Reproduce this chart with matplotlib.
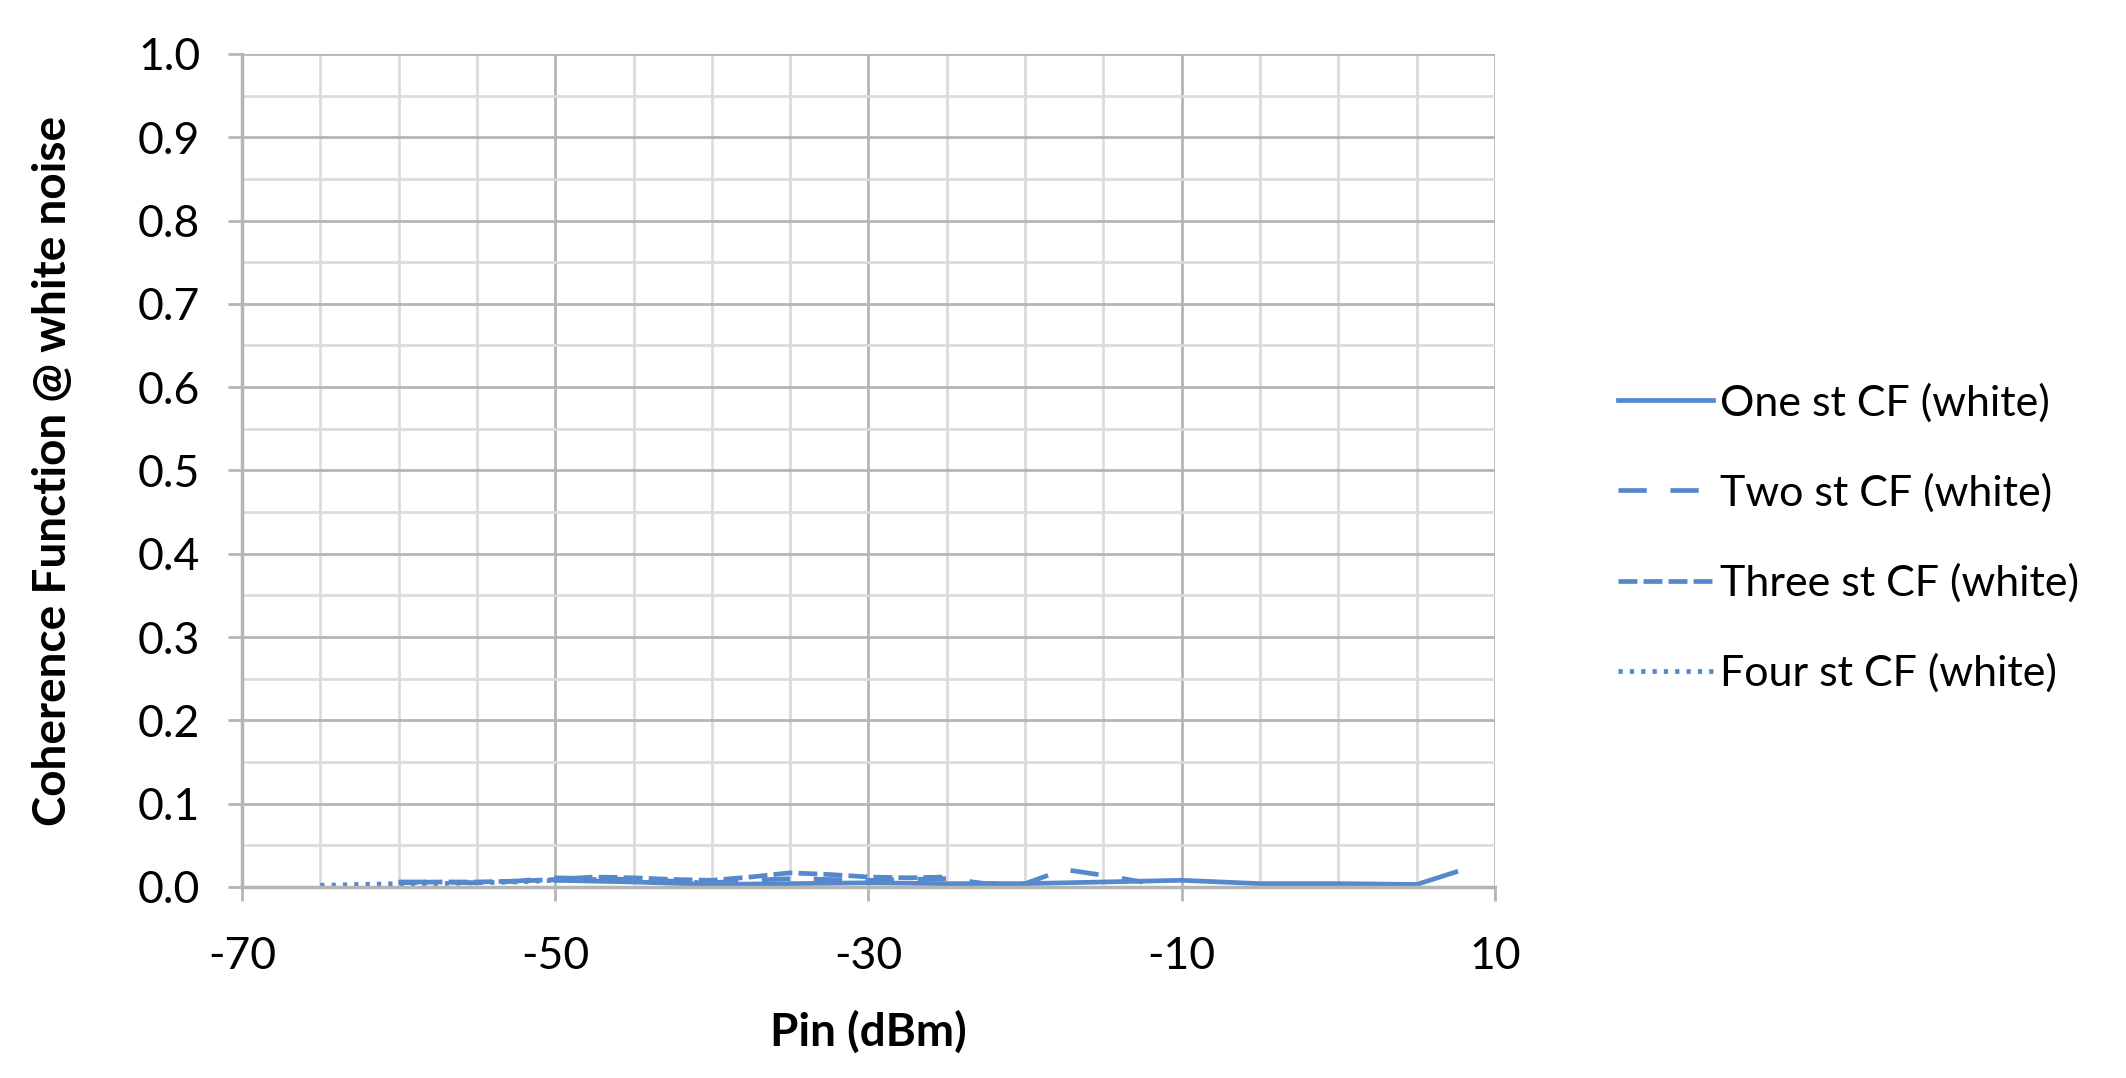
import numpy as np
import matplotlib.pyplot as plt
from matplotlib.ticker import FixedLocator, MultipleLocator

plt.rcParams['font.family'] = ['Lato', 'DejaVu Sans']

# data
one_x = [-50, -45, -40, -35, -30, -25, -20, -15, -10, -5, 0, 5, 7.5]
one_y = [0.008, 0.006, 0.003, 0.004, 0.005, 0.004, 0.004, 0.006, 0.008, 0.004, 0.004, 0.003, 0.018]

two_x = [-60, -57.5, -55, -52.5, -50, -47.5, -45, -42.5, -40, -37.5, -35, -32.5,
         -30, -27.5, -25, -22.5, -20, -17.5, -15, -12.5]
two_y = [0.006, 0.006, 0.005, 0.007, 0.011, 0.010, 0.009, 0.007, 0.005, 0.008, 0.010, 0.009,
         0.008, 0.009, 0.010, 0.004, 0.004, 0.021, 0.014, 0.006]

three_x = [-60, -57.5, -55, -52.5, -50, -47.5, -45, -42.5, -40, -37.5, -35, -32.5, -30, -27.5, -25]
three_y = [0.005, 0.006, 0.006, 0.007, 0.009, 0.012, 0.011, 0.009, 0.008, 0.012, 0.017, 0.015,
           0.012, 0.011, 0.012]

four_x = [-65, -62.5, -60, -57.5, -55, -52.5, -50, -47.5, -45, -42.5, -40]
four_y = [0.002, 0.003, 0.004, 0.004, 0.005, 0.006, 0.008, 0.009, 0.008, 0.006, 0.005]

labels = ["One st CF (white)", "Two st CF (white)", "Three st CF (white)", "Four st CF (white)"]
x_ticks = [-70, -50, -30, -10, 10]
y_ticks = [0.0, 0.1, 0.2, 0.3, 0.4, 0.5, 0.6, 0.7, 0.8, 0.9, 1.0]

col = '#5689CC'
lw = 3.4

fig = plt.figure(figsize=(21.26, 10.78), dpi=100)
ax = fig.add_axes([0.1138, 0.1772, 0.5894, 0.7728])

ax.plot(one_x, one_y, color=col, lw=lw, linestyle='-', label=labels[0])
ax.plot(two_x, two_y, color=col, lw=lw, linestyle=(0, (6, 5)), label=labels[1])
ax.plot(three_x, three_y, color=col, lw=lw, linestyle=(0, (4, 1.3)), label=labels[2])
ax.plot(four_x, four_y, color=col, lw=lw, linestyle=(0, (0.9, 1.5)), label=labels[3])

ax.set_xlim(-70, 10)
ax.set_ylim(0, 1.0)
ax.xaxis.set_major_locator(FixedLocator(x_ticks))
ax.xaxis.set_minor_locator(MultipleLocator(5))
ax.yaxis.set_major_locator(FixedLocator(y_ticks))
ax.yaxis.set_minor_locator(MultipleLocator(0.05))
ax.set_xticklabels([str(v) for v in x_ticks])
ax.set_yticklabels([f"{v:.1f}" for v in y_ticks])

ax.grid(which='major', color='#B5B5B5', lw=2)
ax.grid(which='minor', color='#DCDCDC', lw=2)
ax.set_axisbelow(True)
for s in ['top', 'right']:
    ax.spines[s].set_visible(False)
for s in ['left', 'bottom']:
    ax.spines[s].set_color('#B5B5B5')
    ax.spines[s].set_linewidth(2.5)
ax.tick_params(which='major', length=10, width=2, color='#B5B5B5', labelsize=32)
ax.tick_params(which='minor', length=0)
ax.tick_params(axis='y', pad=20)
ax.tick_params(axis='x', pad=25)

ax.set_xlabel("Pin (dBm)", fontsize=33, fontweight='bold', labelpad=24)
ax.set_ylabel("Coherence Function @ white noise", fontsize=33, fontweight='bold', labelpad=46)

ax.legend(loc='center left', bbox_to_anchor=(0.743, 0.501), bbox_transform=fig.transFigure,
          frameon=False, fontsize=31, handlelength=2.2, handletextpad=0.17, labelspacing=1.18)

fig.savefig("out.png", dpi=100, facecolor='white')
